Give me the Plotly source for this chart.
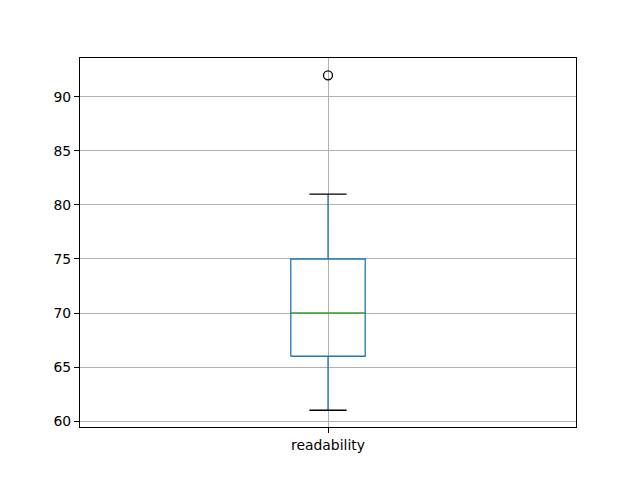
import plotly.graph_objects as go

# box statistics for the single column
column = ["readability"]
whisker_low = [61]
q1 = [66]
median = [70]
q3 = [75]
whisker_high = [81]
outliers = [92]

pos = 1
box_half = 0.075
cap_half = 0.0375

fig = go.Figure()

# box
fig.add_trace(go.Scatter(
    x=[pos - box_half, pos + box_half, pos + box_half, pos - box_half, pos - box_half],
    y=[q1[0], q1[0], q3[0], q3[0], q1[0]],
    mode='lines', line=dict(color='#1f77b4', width=1.3), hoverinfo='skip'))

# whiskers
fig.add_trace(go.Scatter(x=[pos, pos], y=[q1[0], whisker_low[0]], mode='lines',
                         line=dict(color='#1f77b4', width=1.3), hoverinfo='skip'))
fig.add_trace(go.Scatter(x=[pos, pos], y=[q3[0], whisker_high[0]], mode='lines',
                         line=dict(color='#1f77b4', width=1.3), hoverinfo='skip'))

# caps
for v in [whisker_low[0], whisker_high[0]]:
    fig.add_trace(go.Scatter(x=[pos - cap_half, pos + cap_half], y=[v, v], mode='lines',
                             line=dict(color='black', width=1.3), hoverinfo='skip'))

# median
fig.add_trace(go.Scatter(x=[pos - box_half, pos + box_half], y=[median[0], median[0]], mode='lines',
                         line=dict(color='#2ca02c', width=1.3), hoverinfo='skip'))

# fliers
fig.add_trace(go.Scatter(x=[pos] * len(outliers), y=outliers, mode='markers',
                         marker=dict(symbol='circle-open', size=9, color='black', line=dict(width=1.3))))

# page body has an 8px margin, so offsets are taken off left/top
fig.update_layout(
    width=640, height=480,
    showlegend=False,
    paper_bgcolor='white', plot_bgcolor='white',
    margin=dict(l=72, r=72, t=50, b=61),
    font=dict(family='DejaVu Sans', size=13.9, color='black'),
)
fig.update_xaxes(
    range=[0.5, 1.5], tickvals=[pos], ticktext=column,
    showgrid=True, gridcolor='#b0b0b0', gridwidth=1,
    showline=True, linecolor='black', linewidth=1, mirror=True,
    ticks='outside', ticklen=5, tickcolor='black', zeroline=False,
)
fig.update_yaxes(
    range=[59.45, 93.6], tickvals=[60, 65, 70, 75, 80, 85, 90],
    showgrid=True, gridcolor='#b0b0b0', gridwidth=1,
    showline=True, linecolor='black', linewidth=1, mirror=True,
    ticks='outside', ticklen=5, tickcolor='black', zeroline=False,
)

fig.write_html("out.html")
